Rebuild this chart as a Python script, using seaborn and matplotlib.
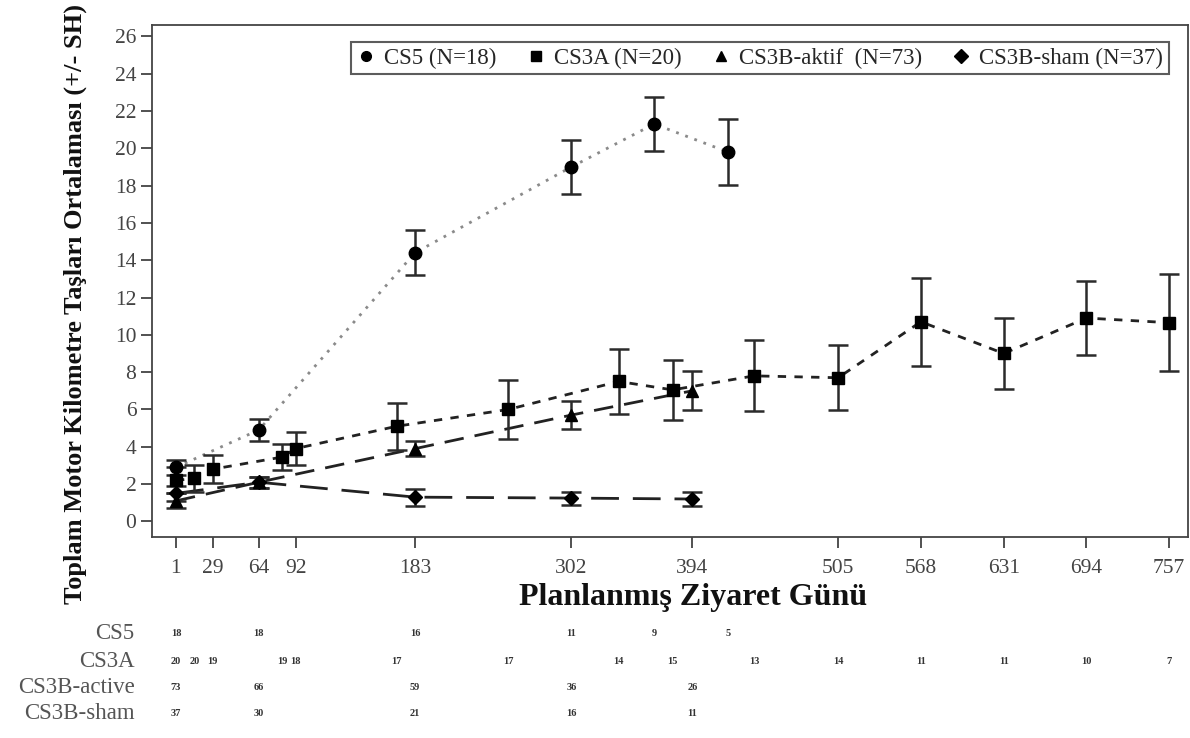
import pandas as pd
import matplotlib.pyplot as plt
import matplotlib.transforms as mtransforms
from matplotlib.lines import Line2D
import seaborn as sns

# visit days, means and SH for each group
cs5_days = [1, 64, 183, 302, 365, 421]
cs5_mean = [2.9, 4.9, 14.4, 19.0, 21.3, 19.8]
cs5_sh = [0.4, 0.6, 1.2, 1.45, 1.45, 1.75]
cs5_n = [18, 18, 16, 11, 9, 5]

cs3a_days = [1, 15, 29, 82, 92, 169, 254, 338, 379, 441, 505, 568, 631, 694, 757]
cs3a_mean = [2.2, 2.3, 2.8, 3.45, 3.9, 5.1, 6.0, 7.5, 7.05, 7.8, 7.7, 10.7, 9.0, 10.9, 10.65]
cs3a_sh = [0.7, 0.7, 0.75, 0.7, 0.9, 1.25, 1.6, 1.75, 1.6, 1.9, 1.75, 2.35, 1.9, 2.0, 2.6]
cs3a_n = [20, 20, 19, 19, 18, 17, 17, 14, 15, 13, 14, 11, 11, 10, 7]

aktif_days = [1, 64, 183, 302, 394]
aktif_mean = [1.1, 2.1, 3.9, 5.7, 7.0]
aktif_sh = [0.4, 0.3, 0.4, 0.75, 1.05]
aktif_n = [73, 66, 59, 36, 26]

sham_days = [1, 64, 183, 302, 394]
sham_mean = [1.5, 2.1, 1.3, 1.25, 1.2]
sham_sh = [0.4, 0.3, 0.45, 0.35, 0.4]
sham_n = [37, 30, 21, 16, 11]

groups = ['CS5', 'CS3A', 'CS3B-aktif', 'CS3B-sham']
legend_labels = ['CS5 (N=18)', 'CS3A (N=20)', 'CS3B-aktif  (N=73)', 'CS3B-sham (N=37)']
table_labels = ['CS5', 'CS3A', 'CS3B-active', 'CS3B-sham']
x_ticks = [1, 29, 64, 92, 183, 302, 394, 505, 568, 631, 694, 757]

series = {
    'CS5': (cs5_days, cs5_mean, cs5_sh, cs5_n),
    'CS3A': (cs3a_days, cs3a_mean, cs3a_sh, cs3a_n),
    'CS3B-aktif': (aktif_days, aktif_mean, aktif_sh, aktif_n),
    'CS3B-sham': (sham_days, sham_mean, sham_sh, sham_n),
}

rows = []
for g in groups:
    d, m, s, n = series[g]
    for i in range(len(d)):
        rows.append({'group': g, 'day': d[i], 'mean': m[i], 'sh': s[i], 'n': n[i]})
df = pd.DataFrame(rows)

sns.set_theme(style="ticks")
plt.rcParams['font.family'] = ['Liberation Serif', 'DejaVu Serif']

fig = plt.figure(figsize=(11.9, 7.38), dpi=100)
ax = fig.add_axes([0.128, 0.272, 0.87, 0.694])

markers = {'CS5': 'o', 'CS3A': 's', 'CS3B-aktif': '^', 'CS3B-sham': 'D'}
line_colors = {'CS5': '#8a8a8a', 'CS3A': '#222222', 'CS3B-aktif': '#222222', 'CS3B-sham': '#222222'}
dashes = {'CS5': (1, 2.5), 'CS3A': (3, 3), 'CS3B-aktif': (7, 4), 'CS3B-sham': (10, 5)}
msize = {'CS5': 9, 'CS3A': 8, 'CS3B-aktif': 8, 'CS3B-sham': 7}

# connecting lines
sns.lineplot(data=df, x='day', y='mean', hue='group', style='group',
             palette=line_colors, dashes=dashes, linewidth=2,
             errorbar=None, sort=True, legend=False, ax=ax)

# error bars (+/- SH) and markers
for g in groups:
    sub = df[df['group'] == g]
    ax.errorbar(sub['day'], sub['mean'], yerr=sub['sh'], fmt='none',
                ecolor='#2b2b2b', elinewidth=1.8, capsize=7, capthick=1.8, zorder=3)
    ax.plot(sub['day'], sub['mean'], linestyle='none', marker=markers[g],
            markersize=msize[g], color='black', zorder=4)

ax.set_xlim(-17, 771)
ax.set_ylim(-0.85, 26.6)
ax.set_xticks(x_ticks)
ax.set_yticks(range(0, 27, 2))
ax.tick_params(axis='both', direction='out', length=8, width=1.2, colors='#333333',
               labelsize=15.5, labelcolor='#444444')
ax.tick_params(axis='x', pad=8)
for sp in ax.spines.values():
    sp.set_color('#444444')
    sp.set_linewidth(1.3)
ax.set_xlabel('')
ax.set_ylabel('')

fig.text(0.582, 0.19, 'Planlanmış Ziyaret Günü', ha='center', va='center',
         fontsize=23, fontweight='bold', color='#111111')
fig.text(0.063, 0.588, 'Toplam Motor Kilometre Taşları Ortalaması (+/- SH)',
         ha='center', va='center', rotation=90, fontsize=19,
         fontweight='bold', color='#111111')

# legend with marker-only handles
handles = [Line2D([], [], linestyle='none', marker=markers[g], markersize=7, color='black')
           for g in groups]
leg = ax.legend(handles, legend_labels, loc='upper right', ncol=4, fontsize=16.5,
                frameon=True, handlelength=0.8, handletextpad=0.4, columnspacing=1.3,
                borderpad=0.25, bbox_to_anchor=(0.993, 0.99), fancybox=False)
leg.get_frame().set_edgecolor('#333333')
leg.get_frame().set_linewidth(1.5)

# number-at-risk table under the plot
trans = mtransforms.blended_transform_factory(ax.transData, fig.transFigure)
row_y = [0.141, 0.104, 0.068, 0.033]
for g, lab, yy in zip(groups, table_labels, row_y):
    fig.text(0.113, yy, lab, ha='right', va='center', fontsize=16.5, color='#555555')
    sub = df[df['group'] == g]
    for d, n in zip(sub['day'], sub['n']):
        ax.text(d, yy, str(n), transform=trans, ha='center', va='center',
                fontsize=7.5, fontweight='bold', color='#333333')

fig.savefig('out.png', dpi=100)
